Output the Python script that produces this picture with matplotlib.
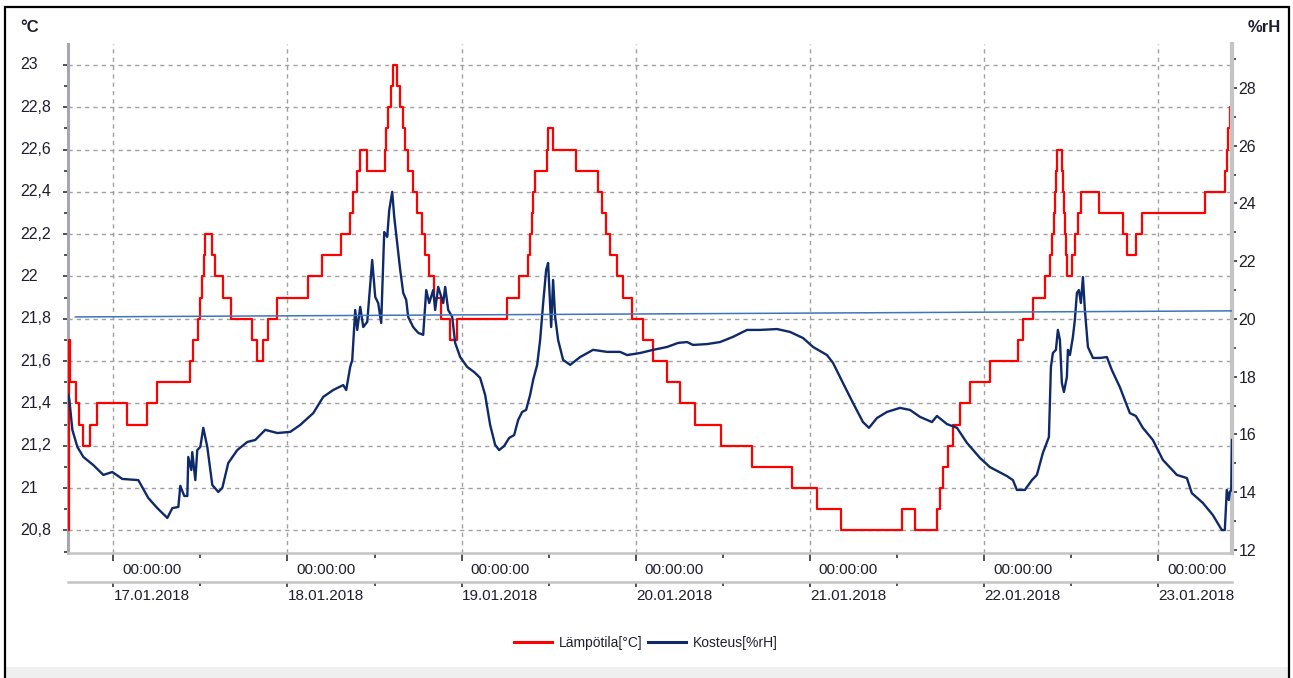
import matplotlib
matplotlib.use('Agg')
import matplotlib.pyplot as plt
from matplotlib.patches import Rectangle
from matplotlib.ticker import FixedLocator, NullFormatter

plt.rcParams['font.family'] = ['Liberation Sans', 'DejaVu Sans']

# ---- data (hours since 17.01.2018 00:00) ----
temp_hours = [-6.20, -6.13, -5.99, -5.92, -5.10, -4.68, -4.13, -3.17, -2.20, 1.93, 4.68, 6.06,
              10.61, 11.02, 11.71, 11.99, 12.26, 12.54, 12.68, 13.64, 14.05, 15.16, 16.26, 19.15,
              19.84, 20.67, 21.36, 22.60, 26.87, 28.80, 31.41, 32.65, 33.07, 33.62, 34.03, 35.00,
              37.48, 37.61, 37.89, 38.30, 38.58, 39.13, 39.54, 39.96, 40.23, 40.64, 41.33, 41.88,
              42.57, 42.99, 43.54, 44.23, 45.19, 46.43, 47.40, 54.29, 55.94, 57.18, 57.45, 57.73,
              57.87, 58.14, 59.80, 59.93, 60.62, 63.79, 66.82, 67.37, 67.92, 68.47, 69.44, 70.27,
              71.51, 73.02, 74.40, 76.33, 78.12, 80.19, 83.77, 88.04, 93.55, 97.00, 100.30, 108.71,
              110.50, 113.53, 113.94, 114.36, 115.05, 115.73, 116.70, 118.08, 120.83, 124.69, 125.38,
              126.76, 128.41, 129.10, 129.37, 129.65, 129.79, 129.93, 130.06, 130.75, 130.89, 131.03,
              131.17, 131.30, 131.44, 132.13, 132.54, 132.96, 133.37, 135.85, 139.16, 139.71, 140.95,
              141.77, 150.45, 153.20, 153.48, 153.62, 153.90, 154.20]
temp_values = [20.8, 21.7, 21.6, 21.5, 21.4, 21.3, 21.2, 21.3, 21.4, 21.3, 21.4, 21.5,
               21.6, 21.7, 21.8, 21.9, 22.0, 22.1, 22.2, 22.1, 22.0, 21.9, 21.8, 21.7,
               21.6, 21.7, 21.8, 21.9, 22.0, 22.1, 22.2, 22.3, 22.4, 22.5, 22.6, 22.5,
               22.6, 22.7, 22.8, 22.9, 23.0, 22.9, 22.8, 22.7, 22.6, 22.5, 22.4, 22.3,
               22.2, 22.1, 22.0, 21.9, 21.8, 21.7, 21.8, 21.9, 22.0, 22.1, 22.2, 22.3,
               22.4, 22.5, 22.6, 22.7, 22.6, 22.5, 22.4, 22.3, 22.2, 22.1, 22.0, 21.9,
               21.8, 21.7, 21.6, 21.5, 21.4, 21.3, 21.2, 21.1, 21.0, 20.9, 20.8, 20.9,
               20.8, 20.9, 21.0, 21.1, 21.2, 21.3, 21.4, 21.5, 21.6, 21.7, 21.8,
               21.9, 22.0, 22.1, 22.2, 22.3, 22.4, 22.5, 22.6, 22.5, 22.4, 22.3,
               22.2, 22.1, 22.0, 22.1, 22.2, 22.3, 22.4, 22.3, 22.2, 22.1, 22.2,
               22.3, 22.4, 22.5, 22.6, 22.7, 22.8, 22.1]

rh_hours = [-6.20, -6.06, -5.65, -4.96, -4.13, -2.76, -1.38, -0.14, 1.24, 3.44, 4.82, 6.06,
            7.44, 8.13, 8.96, 9.23, 9.78, 10.20, 10.33, 10.75, 10.88, 11.30, 11.57, 11.99,
            12.40, 12.95, 13.64, 14.47, 15.02, 15.84, 17.08, 18.46, 19.56, 20.94, 22.60, 24.39,
            25.76, 27.56, 28.93, 30.31, 31.69, 32.10, 32.65, 32.93, 33.34, 33.62, 34.03, 34.45,
            35.00, 35.68, 36.10, 36.51, 36.92, 37.34, 37.75, 38.03, 38.44, 38.72, 39.13, 39.54,
            39.96, 40.37, 40.64, 41.33, 42.02, 42.71, 43.13, 43.54, 44.09, 44.36, 44.78, 45.47,
            45.74, 46.16, 46.71, 47.12, 47.81, 48.77, 49.74, 50.56, 51.25, 51.94, 52.63, 53.18,
            53.87, 54.56, 55.25, 55.80, 56.35, 56.90, 57.45, 57.87, 58.42, 58.83, 59.25, 59.66,
            59.93, 60.35, 60.62, 60.90, 61.31, 62.00, 62.97, 64.34, 66.13, 68.06, 69.85, 70.82,
            72.61, 74.40, 76.33, 77.85, 79.09, 79.91, 81.84, 83.63, 85.42, 87.35, 89.14, 91.49,
            93.28, 95.07, 96.45, 98.37, 99.20, 100.58, 101.96, 103.33, 104.16, 105.26, 106.64,
            108.43, 109.81, 111.19, 112.84, 113.53, 114.91, 116.29, 117.66, 119.45, 120.83,
            123.17, 124.00, 124.55, 125.65, 126.62, 127.31, 128.13, 128.96, 129.24, 129.51,
            129.93, 130.20, 130.48, 130.75, 131.03, 131.44, 131.58, 131.86, 132.27, 132.54,
            132.82, 133.09, 133.37, 133.65, 133.92, 134.34, 135.03, 135.99, 136.95, 137.64,
            138.74, 140.12, 140.95, 141.91, 143.29, 144.67, 146.60, 147.98, 148.66, 150.18,
            151.56, 152.80, 153.21, 153.48, 153.76, 153.90, 154.10, 154.20]
rh_values = [17.37, 17.19, 16.16, 15.57, 15.22, 14.94, 14.60, 14.70, 14.46, 14.42, 13.80, 13.45,
             13.11, 13.45, 13.49, 14.22, 13.87, 13.87, 15.22, 14.77, 15.39, 14.42, 15.46, 15.57,
             16.23, 15.57, 14.25, 14.01, 14.15, 15.01, 15.46, 15.74, 15.81, 16.16, 16.05, 16.09,
             16.33, 16.74, 17.30, 17.54, 17.71, 17.54, 18.34, 18.58, 20.31, 19.62, 20.42, 19.72,
             19.90, 22.04, 20.76, 20.55, 19.86, 23.01, 22.84, 23.77, 24.40, 23.53, 22.63, 21.70,
             20.90, 20.66, 20.07, 19.72, 19.52, 19.45, 21.00, 20.55, 21.00, 20.31, 21.11, 20.55,
             21.11, 20.31, 20.07, 19.17, 18.68, 18.34, 18.16, 17.96, 17.37, 16.33, 15.64, 15.46,
             15.60, 15.88, 15.98, 16.50, 16.78, 16.85, 17.37, 17.89, 18.41, 19.27, 20.55, 21.70,
             21.94, 19.72, 21.35, 20.07, 19.27, 18.58, 18.41, 18.68, 18.93, 18.86, 18.86, 18.75,
             18.82, 18.93, 19.03, 19.17, 19.20, 19.10, 19.13, 19.20, 19.38, 19.62, 19.62, 19.65,
             19.55, 19.34, 19.03, 18.75, 18.48, 17.78, 17.09, 16.43, 16.23, 16.57, 16.78,
             16.92, 16.85, 16.61, 16.43, 16.64, 16.36, 16.23, 15.71, 15.19, 14.87,
             14.56, 14.42, 14.08, 14.08, 14.42, 14.60, 15.36, 15.91, 18.34, 18.82,
             18.93, 19.62, 19.27, 17.78, 17.47, 17.99, 18.93, 18.75, 19.38, 19.97,
             20.90, 21.00, 20.55, 21.45, 20.31, 19.03, 18.65, 18.65, 18.68, 18.23,
             17.64, 16.74, 16.64, 16.23, 15.81, 15.12, 14.60, 14.49, 13.97, 13.63,
             13.21, 12.69, 12.69, 14.08, 13.73, 14.01, 14.08, 15.81]

trend_hours = [-5.24, 154.20]
trend_values = [20.07, 20.28]

day_labels = ['17.01.2018', '18.01.2018', '19.01.2018', '20.01.2018',
              '21.01.2018', '22.01.2018', '23.01.2018']
time_label = '00:00:00'
temp_ticks = [20.8, 21.0, 21.2, 21.4, 21.6, 21.8, 22.0, 22.2, 22.4, 22.6, 22.8, 23.0]
rh_ticks = [12, 14, 16, 18, 20, 22, 24, 26, 28]

# ---- figure ----
W, H = 1293, 678
fig = plt.figure(figsize=(W / 100, H / 100), dpi=100)
fig.patch.set_facecolor('white')
fig.add_artist(Rectangle((5 / W, 0), 1284 / W, 11 / H, transform=fig.transFigure,
                         facecolor='#efefef', edgecolor='none', zorder=0))
fig.add_artist(Rectangle((4.5 / W, -0.01), 1284.5 / W, (H - 7.5) / H + 0.01, transform=fig.transFigure,
                         fill=False, edgecolor='black', linewidth=1.6, zorder=10))

x0, x1, y0, y1 = 68, 1232, 44, 553
ax = fig.add_axes([x0 / W, 1 - y1 / H, (x1 - x0) / W, (y1 - y0) / H])
ax.set_facecolor('white')
ax.set_xlim(-6.25, 154.2)
ax.set_ylim(20.693, 23.099)

tick_col = '#1e1e2e'
grid_col = '#a0a0a0'
px = 72 / 100  # points per pixel

midnights = [24 * i for i in range(len(day_labels))]
noons = [24 * i + 12 for i in range(-1, len(day_labels))]

# grids
for t in temp_ticks:
    ax.axhline(t, color=grid_col, lw=1.0, ls=(0, (3, 3)), zorder=0.5)
for m in midnights:
    ax.axvline(m, color=grid_col, lw=1.0, ls=(0, (3, 3)), zorder=0.5)

# temperature
ax.plot(temp_hours, temp_values, drawstyle='steps-post', color='#ff0000', lw=1.6,
        label='Lämpötila[°C]', zorder=3)

# spines
for s in ['top', 'right']:
    ax.spines[s].set_visible(False)
ax.spines['left'].set_color('#a4a8b4')
ax.spines['left'].set_linewidth(2.2)
ax.spines['bottom'].set_color('#c4c4c4')
ax.spines['bottom'].set_linewidth(1.8)

ax.yaxis.set_major_locator(FixedLocator(temp_ticks))
ax.yaxis.set_minor_locator(FixedLocator([t + 0.1 for t in [20.6] + temp_ticks]))
ax.yaxis.set_major_formatter(NullFormatter())
ax.tick_params(axis='y', which='major', direction='out', length=5 * px, width=1.2, color='#333333')
ax.tick_params(axis='y', which='minor', direction='out', length=4 * px, width=1.2, color='#333333')

ax.xaxis.set_major_locator(FixedLocator(midnights))
ax.xaxis.set_minor_locator(FixedLocator(noons))
ax.xaxis.set_major_formatter(NullFormatter())
ax.tick_params(axis='x', which='major', direction='out', length=8 * px, width=1.2, color='#333333')
ax.tick_params(axis='x', which='minor', direction='out', length=5 * px, width=1.2, color='#333333')

# left tick labels (left-aligned, as in the original)
for t in temp_ticks:
    ax.annotate(f'{t:g}'.replace('.', ','), xy=(0, t), xycoords=('axes fraction', 'data'),
                xytext=(-48 * px, 0), textcoords='offset points', ha='left', va='center',
                fontsize=11.5, color=tick_col, annotation_clip=False)

# humidity axis
ax2 = ax.twinx()
ax2.set_ylim(11.896, 29.52)
ax2.plot(rh_hours, rh_values, color='#0f2a6a', lw=1.7, label='Kosteus[%rH]', zorder=3)
ax2.plot(trend_hours, trend_values, color='#3f74b8', lw=1.1, zorder=4)
for s in ['top', 'left', 'bottom']:
    ax2.spines[s].set_visible(False)
ax2.spines['right'].set_color('#c4c4c4')
ax2.spines['right'].set_linewidth(3)
ax2.yaxis.set_major_locator(FixedLocator(rh_ticks))
ax2.yaxis.set_minor_locator(FixedLocator([t + 1 for t in rh_ticks]))
ax2.set_yticklabels([str(t) for t in rh_ticks])
ax2.tick_params(axis='y', which='major', direction='out', length=5 * px, width=1.2,
                color='#333333', labelcolor=tick_col, labelsize=11.5, pad=1)
ax2.tick_params(axis='y', which='minor', direction='out', length=4 * px, width=1.2, color='#333333')

# second (date) axis line
ax3 = ax.twiny()
ax3.set_xlim(ax.get_xlim())
ax3.xaxis.set_ticks_position('bottom')
ax3.spines['bottom'].set_position(('outward', 29 * px))
for s in ['top', 'left', 'right']:
    ax3.spines[s].set_visible(False)
ax3.spines['bottom'].set_color('#c4c4c4')
ax3.spines['bottom'].set_linewidth(1.8)
ax3.xaxis.set_major_locator(FixedLocator(midnights))
ax3.xaxis.set_minor_locator(FixedLocator(noons))
ax3.xaxis.set_major_formatter(NullFormatter())
ax3.tick_params(axis='x', which='major', direction='out', length=5 * px, width=1.2, color='#333333')
ax3.tick_params(axis='x', which='minor', direction='out', length=4 * px, width=1.2, color='#333333')

# x labels
for m, d in zip(midnights, day_labels):
    ax.annotate(time_label, xy=(m, 0), xycoords=('data', 'axes fraction'),
                xytext=(9 * px, -17 * px), textcoords='offset points', ha='left', va='center',
                fontsize=11, color=tick_col, annotation_clip=False)
    ax.annotate(d, xy=(m, 0), xycoords=('data', 'axes fraction'),
                xytext=(0.5 * px, -43 * px), textcoords='offset points', ha='left', va='center',
                fontsize=11, color=tick_col, annotation_clip=False)

# unit labels
fig.text(20 / W, 1 - 27 / H, '°C', ha='left', va='center', fontsize=12, fontweight='bold', color=tick_col)
fig.text(1281 / W, 1 - 27 / H, '%rH', ha='right', va='center', fontsize=12, fontweight='bold', color=tick_col)

# legend
h1, l1 = ax.get_legend_handles_labels()
h2, l2 = ax2.get_legend_handles_labels()
leg = fig.legend(h1 + h2, l1 + l2, loc='center', bbox_to_anchor=(646 / W, 1 - 643 / H),
                 ncol=2, frameon=False, fontsize=10, handlelength=2.75, handletextpad=0.5,
                 columnspacing=0.4)
for line in leg.get_lines():
    line.set_linewidth(2.2)
for t in leg.get_texts():
    t.set_color(tick_col)

fig.savefig('out.png', dpi=100, facecolor='white')
